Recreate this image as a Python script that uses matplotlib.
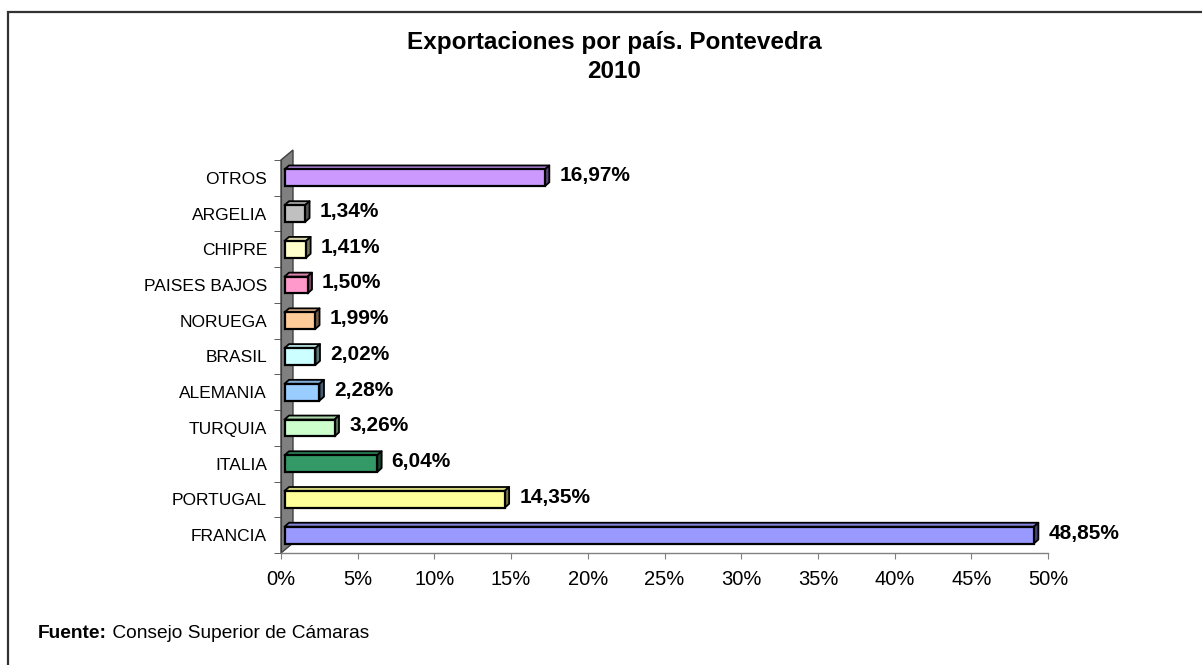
import matplotlib.pyplot as plt
import matplotlib as mpl
import matplotlib.transforms as mtransforms
from matplotlib.patches import Polygon, Rectangle
import matplotlib.colors as mcolors

mpl.rcParams.update({
    'font.family': ['Liberation Sans', 'DejaVu Sans'],
})

# Data
countries = ["FRANCIA", "PORTUGAL", "ITALIA", "TURQUIA", "ALEMANIA", "BRASIL",
             "NORUEGA", "PAISES BAJOS", "CHIPRE", "ARGELIA", "OTROS"]
shares = [48.85, 14.35, 6.04, 3.26, 2.28, 2.02, 1.99, 1.50, 1.41, 1.34, 16.97]
bar_colors = ["#9999FF", "#FFFF99", "#339966", "#CCFFCC", "#99CCFF", "#CCFFFF",
              "#FFCC99", "#FF99CC", "#FFFFCC", "#C0C0C0", "#CC99FF"]
xticks = [0, 5, 10, 15, 20, 25, 30, 35, 40, 45, 50]

W, H = 1202, 665
fig = plt.figure(figsize=(W / 100, H / 100), dpi=100)

# axes placed in pixel terms
ax_l, ax_r, ax_b, ax_t = 281, 1048, 553, 160
ax = fig.add_axes([ax_l / W, 1 - ax_b / H, (ax_r - ax_l) / W, (ax_b - ax_t) / H])
ax.set_xlim(0, 50)
ax.set_ylim(-0.5, len(countries) - 0.5)

px_x = (ax_r - ax_l) / 50.0               # pixels per x unit
px_y = (ax_b - ax_t) / len(countries)     # pixels per category

def shifted(dx_px, dy_px):
    return ax.transData + mtransforms.ScaledTranslation(dx_px / 100, dy_px / 100, fig.dpi_scale_trans)

# gray back wall (3D look)
wall_dx, wall_dy = 12 / (ax_r - ax_l), 10 / (ax_b - ax_t)
wall = Polygon([(0, 0), (wall_dx, wall_dy), (wall_dx, 1 + wall_dy), (0, 1)],
               closed=True, transform=ax.transAxes, facecolor="#808080",
               edgecolor="#404040", linewidth=1.0, clip_on=False, zorder=1)
ax.add_patch(wall)

# bars with 3D top and side faces
bar_h = 0.47
depth_x = 4.5 / px_x
depth_y = 4.0 / px_y
tr = shifted(3.5, 0)
for i, (v, c) in enumerate(zip(shares, bar_colors)):
    rgb = mcolors.to_rgb(c)
    dark = tuple(0.45 * k for k in rgb)
    light = tuple(0.85 * k for k in rgb)
    top = i + bar_h / 2
    bot = i - bar_h / 2
    ax.add_patch(Polygon([(0, top), (v, top), (v + depth_x, top + depth_y), (depth_x, top + depth_y)],
                         closed=True, facecolor=light, edgecolor="black", linewidth=1.3,
                         transform=tr, zorder=3, clip_on=False, joinstyle="round"))
    ax.add_patch(Polygon([(v, bot), (v + depth_x, bot + depth_y), (v + depth_x, top + depth_y), (v, top)],
                         closed=True, facecolor=dark, edgecolor="black", linewidth=1.3,
                         transform=tr, zorder=3, clip_on=False, joinstyle="round"))
    ax.barh(i, v, height=bar_h, color=c, edgecolor="black", linewidth=1.6,
            transform=tr, zorder=4, clip_on=False)
    ax.annotate(f"{v:.2f}%".replace(".", ","), xy=(v, i), xytext=(13, 1.5),
                textcoords="offset points", ha="left", va="center",
                fontsize=15, fontweight="bold", color="black")

# axes styling
for s in ["top", "right"]:
    ax.spines[s].set_visible(False)
ax.spines["left"].set_color("#404040")
ax.spines["bottom"].set_color("#808080")
ax.spines["bottom"].set_linewidth(1.0)
ax.set_facecolor("none")

ax.set_yticks(range(len(countries)))
ax.set_yticklabels(countries, fontsize=12.5)
ax.set_yticks([k - 0.5 for k in range(len(countries) + 1)], minor=True)
ax.tick_params(axis="y", which="major", length=0, pad=10)
ax.tick_params(axis="y", which="minor", length=5, color="#404040")

ax.set_xticks(xticks)
ax.set_xticklabels([f"{t}%" for t in xticks], fontsize=14.5)
ax.tick_params(axis="x", length=4, color="#808080", pad=8)

# title
fig.text(614 / W, 1 - 42 / H, "Exportaciones por país. Pontevedra", ha="center", va="center",
         fontsize=17.5, fontweight="bold")
fig.text(614 / W, 1 - 72 / H, "2010", ha="center", va="center",
         fontsize=17.5, fontweight="bold")

# source note
t1 = fig.text(38 / W, 1 - 633 / H, "Fuente:", ha="left", va="center", fontsize=13.8, fontweight="bold")
fig.add_artist(plt.Annotation(" Consejo Superior de Cámaras", xy=(1, 0.5), xycoords=t1,
                              ha="left", va="center", fontsize=13.8))

# chart border (only top and left visible, the rest is cropped)
fig.add_artist(Rectangle((8 / W, -0.1), 1.1, 1 - 12 / H + 0.1, transform=fig.transFigure,
                         fill=False, edgecolor="#333333", linewidth=1.6))

fig.savefig("out.png", dpi=100)
